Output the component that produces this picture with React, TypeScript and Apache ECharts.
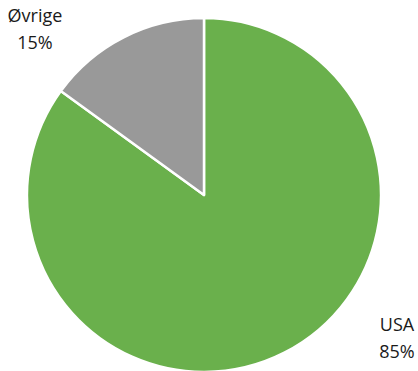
import React, { useEffect, useRef } from "react";
import * as echarts from "echarts";

const categories = ["USA", "Øvrige"];
const values = [85, 15];
const colors = ["#6ab04c", "#999999"];
const labelPositions = [
  [397, 337],
  [35, 28],
];

export default function App() {
  const ref = useRef<HTMLDivElement>(null);
  useEffect(() => {
    document.body.style.margin = "0";
    const chart = echarts.init(ref.current!, undefined, { renderer: "svg" });
    chart.setOption({
      animation: false,
      series: [
        {
          type: "pie",
          center: [204, 195],
          radius: [0, 177],
          startAngle: 90,
          clockwise: true,
          data: categories.map((name, i) => ({
            name,
            value: values[i],
            itemStyle: { color: colors[i] },
          })),
          itemStyle: { borderColor: "#ffffff", borderWidth: 2.5 },
          label: {
            show: true,
            position: "outside",
            formatter: "{b}\n{c}%",
            fontFamily: "Open Sans",
            fontSize: 18,
            lineHeight: 27,
            color: "#1a1a1a",
            align: "center",
          },
          labelLine: { show: false },
          labelLayout: (params: any) => ({
            x: labelPositions[params.dataIndex][0],
            y: labelPositions[params.dataIndex][1],
            align: "center",
            verticalAlign: "middle",
          }),
          emphasis: { disabled: true },
        },
      ],
    });
    return () => chart.dispose();
  }, []);
  return <div ref={ref} style={{ width: 418, height: 371 }} />;
}
